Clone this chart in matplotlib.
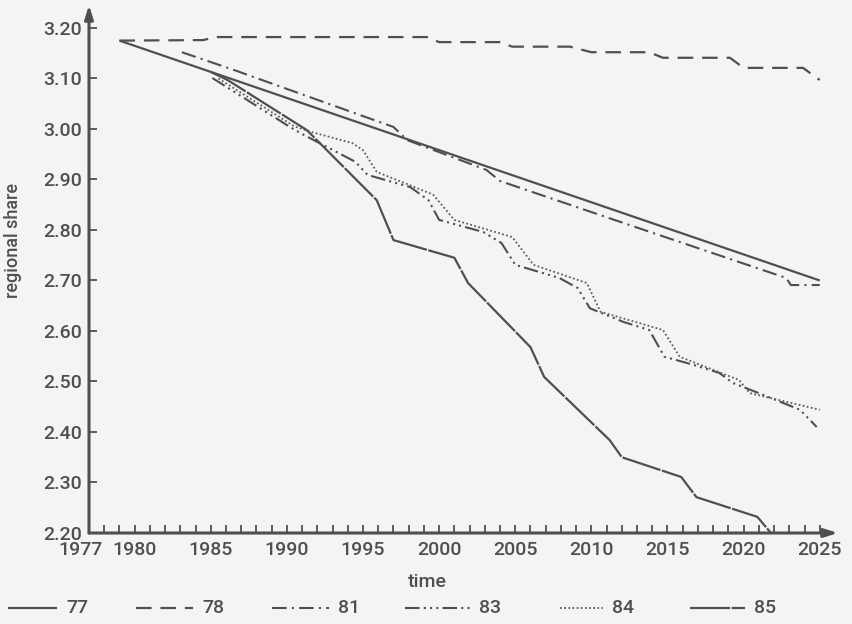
import matplotlib
matplotlib.use("Agg")
import matplotlib.pyplot as plt
import matplotlib.transforms as mtransforms
from matplotlib.lines import Line2D

# forecast vintages
labels = ["77", "78", "81", "83", "84", "85"]

years_77 = [1979, 2025]
share_77 = [3.175, 2.700]

years_78 = [1979, 1984.5, 1985.3, 1999.2, 2000.0, 2004.0, 2004.8, 2008.6, 2010.0,
            2013.8, 2014.7, 2019.1, 2020.0, 2023.9, 2025.0]
share_78 = [3.175, 3.176, 3.182, 3.182, 3.172, 3.172, 3.163, 3.163, 3.152,
            3.152, 3.141, 3.141, 3.121, 3.121, 3.097]

years_81 = [1983.1, 1986.7, 1987.8, 1997.0, 1997.9, 2003.1, 2004.0, 2012.0,
            2022.8, 2023.1, 2025.0]
share_81 = [3.152, 3.115, 3.103, 3.004, 2.978, 2.919, 2.897, 2.815,
            2.705, 2.691, 2.691]

years_83 = [1985.1, 1990.2, 1991.0, 1994.5, 1995.3, 1998.1, 1999.3, 2000.0, 2002.9,
            2004.1, 2005.0, 2007.9, 2009.1, 2009.9, 2012.1, 2013.8, 2014.8, 2016.7,
            2018.4, 2019.3, 2021.0, 2023.7, 2024.8]
share_83 = [3.101, 3.004, 2.990, 2.935, 2.909, 2.885, 2.859, 2.820, 2.796,
            2.774, 2.731, 2.705, 2.685, 2.645, 2.618, 2.602, 2.549, 2.533,
            2.517, 2.497, 2.477, 2.444, 2.410]

years_84 = [1985.5, 1990.5, 1991.5, 1994.3, 1995.0, 1995.9, 1999.2, 1999.6, 2001.0,
            2004.8, 2006.2, 2009.7, 2010.6, 2014.7, 2015.8, 2019.7, 2020.4, 2025.0]
share_84 = [3.100, 3.005, 2.995, 2.972, 2.958, 2.915, 2.875, 2.870, 2.820,
            2.786, 2.731, 2.695, 2.638, 2.602, 2.549, 2.503, 2.477, 2.444]

years_85 = [1985.0, 1986.1, 1991.3, 1995.9, 1997.0, 2001.0, 2001.9, 2006.0, 2006.9,
            2011.2, 2012.0, 2015.9, 2016.9, 2020.9, 2021.8]
share_85 = [3.113, 3.097, 2.998, 2.859, 2.780, 2.745, 2.695, 2.568, 2.509,
            2.384, 2.350, 2.311, 2.271, 2.232, 2.200]

x_ticks = [1977, 1980, 1985, 1990, 1995, 2000, 2005, 2010, 2015, 2020, 2025]
y_ticks = [2.20, 2.30, 2.40, 2.50, 2.60, 2.70, 2.80, 2.90, 3.00, 3.10, 3.20]

ink = "#4f4f4f"
paper = "#f4f4f2"
plt.rcParams["font.family"] = ["Roboto", "DejaVu Sans"]
plt.rcParams["font.weight"] = "medium"

styles = {
    "77": dict(ls="-", lw=1.6),
    "78": dict(ls=(0, (7, 4)), lw=1.6),
    "81": dict(ls=(0, (7, 2.5, 1, 2.5)), lw=1.5),
    "83": dict(ls=(0, (7, 2, 1, 2, 1, 2, 1, 2)), lw=1.5),
    "84": dict(ls=(0, (1, 1.3)), lw=1.3, color="#5c5c5c"),
    "85": dict(ls=(0, (18, 0.7)), lw=1.6),
}
series = {
    "77": (years_77, share_77),
    "78": (years_78, share_78),
    "81": (years_81, share_81),
    "83": (years_83, share_83),
    "84": (years_84, share_84),
    "85": (years_85, share_85),
}

fig = plt.figure(figsize=(8.52, 6.24), dpi=100, facecolor=paper)
ax = fig.add_axes([89 / 852, 91 / 624, 749 / 852, 528 / 624])
ax.set_facecolor(paper)

for lab in labels:
    xs, ys = series[lab]
    st = dict(color=ink)
    st.update(styles[lab])
    ax.plot(xs, ys, solid_capstyle="butt", dash_capstyle="butt", **st)

ax.set_xlim(1977, 2026.2)
ax.set_ylim(2.20, 3.2455)

for s in ax.spines.values():
    s.set_visible(False)
ax.annotate("", xy=(1, 0), xytext=(0, 0), xycoords="axes fraction",
            arrowprops=dict(arrowstyle="-|>,head_length=0.8,head_width=0.25",
                            color=ink, lw=2.2, shrinkA=0, shrinkB=0))
ax.annotate("", xy=(0, 1), xytext=(0, 0), xycoords="axes fraction",
            arrowprops=dict(arrowstyle="-|>,head_length=0.8,head_width=0.25",
                            color=ink, lw=2.2, shrinkA=0, shrinkB=0))

ax.set_xticks(x_ticks)
ax.set_xticks(range(1978, 2025), minor=True)
ax.set_xticklabels([str(t) for t in x_ticks])
ax.set_yticks(y_ticks)
ax.set_yticklabels([f"{t:.2f}" for t in y_ticks])
ax.tick_params(axis="x", which="both", direction="in", length=6, width=1.3,
               color=ink, labelcolor=ink, labelsize=14, pad=6)
ax.tick_params(axis="y", direction="in", length=6, width=1.3,
               color=ink, labelcolor=ink, labelsize=14, pad=5)

# the first year label sits a little to the left of the axis
first = ax.get_xticklabels()[0]
first.set_transform(first.get_transform()
                    + mtransforms.ScaledTranslation(-9 / 100, 0, fig.dpi_scale_trans))

fig.text(427 / 852, 1 - 582 / 624, "time", ha="center", va="center",
         color=ink, fontsize=14)
fig.text(13 / 852, 1 - 240 / 624, "regional share", rotation=90,
         ha="center", va="center", color=ink, fontsize=13)

# legend row under the axis title
key_x = {"77": (8, 57), "78": (136, 193), "81": (272, 329),
         "83": (405, 470), "84": (560, 603), "85": (690, 745)}
key_y = 1 - 608 / 624
for lab in labels:
    x0, x1 = key_x[lab]
    st = dict(color=ink)
    st.update(styles[lab])
    fig.add_artist(Line2D([x0 / 852, x1 / 852], [key_y, key_y],
                          transform=fig.transFigure,
                          solid_capstyle="butt", dash_capstyle="butt", **st))
    fig.text((x1 + 9) / 852, key_y, lab, ha="left", va="center",
             color=ink, fontsize=14)

fig.savefig("out.png", dpi=100, facecolor=paper)
